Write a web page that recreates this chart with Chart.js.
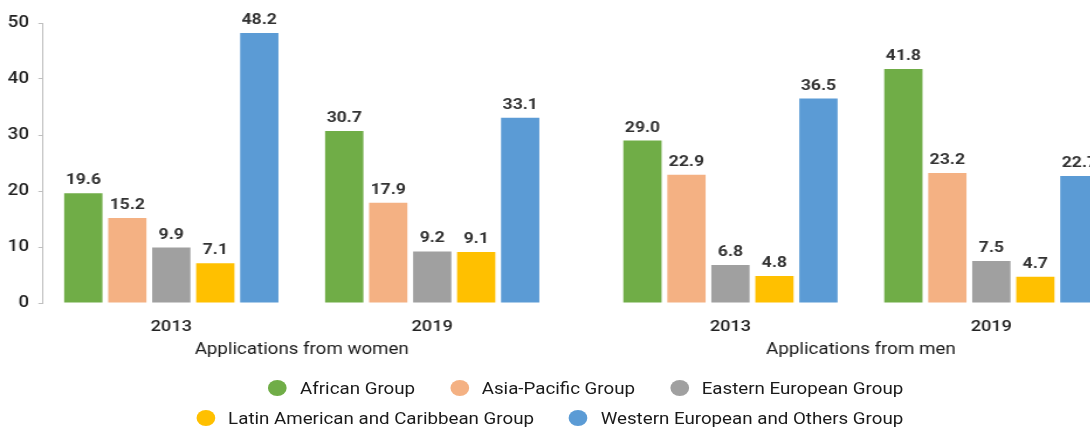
<!DOCTYPE html>
<html>
<head>
<meta charset="utf-8">
<script src="https://cdn.jsdelivr.net/npm/chart.js@4/dist/chart.umd.min.js"></script>
<style>
  body { margin: 0; background: #fff; overflow: hidden; }
  /* the reference is a horizontally stretched picture, so draw narrow and stretch */
  #wrap { position: relative; width: 932px; height: 427px; transform: scaleX(1.17); transform-origin: 0 0; }
  .legend { position: absolute; left: 0; top: 378px; width: 932px; font-family: Roboto, sans-serif; font-size: 16px; color: #1a1a1a; }
  .row { display: flex; justify-content: flex-end; align-items: center; height: 20px; margin-bottom: 10px; padding-right: 160px; }
  .item { display: flex; align-items: center; margin-left: 30px; white-space: nowrap; }
  .dot { width: 16px; height: 16px; border-radius: 50%; margin-right: 11px; }
</style>
</head>
<body>
<div id="wrap">
  <canvas id="chart" width="932" height="365"></canvas>
  <div class="legend" id="legend"></div>
</div>
<script>
// Applications by regional group (%)
const years = ['2013', '2019', '2013', '2019'];
const panels = ['Applications from women', 'Applications from men'];
const groupNames = ['African Group', 'Asia-Pacific Group', 'Eastern European Group',
  'Latin American and Caribbean Group', 'Western European and Others Group'];

const african = [19.6, 30.7, 29.0, 41.8];
const asiaPacific = [15.2, 17.9, 22.9, 23.2];
const easternEuropean = [9.9, 9.2, 6.8, 7.5];
const latinAmerican = [7.1, 9.1, 4.8, 4.7];
const westernEuropean = [48.2, 33.1, 36.5, 22.7];

const yTicks = [0, 10, 20, 30, 40, 50];

// layout: slot of each year on the x axis, with a wider gap between women and men
const panelGap = 0.143;
const slots = years.map((y, i) => i + (i >= 2 ? panelGap : 0));
const panelSlots = [0.5, 2.5 + panelGap];

const colors = ['#70AD47', '#F4B183', '#A0A0A0', '#FFC000', '#5B9BD5'];
const series = [african, asiaPacific, easternEuropean, latinAmerican, westernEuropean];

const valueLabels = {
    id: 'valueLabels',
    afterDatasetsDraw(chart) {
        const ctx = chart.ctx;
        ctx.save();
        ctx.font = 'bold 15px Roboto, sans-serif';
        ctx.fillStyle = '#333';
        ctx.textAlign = 'center';
        ctx.textBaseline = 'alphabetic';
        chart.data.datasets.forEach((ds, i) => {
            chart.getDatasetMeta(i).data.forEach((bar, j) => {
                ctx.fillText(ds.data[j].y.toFixed(1), bar.x, bar.y - 9);
            });
        });
        ctx.restore();
    }
};

new Chart(document.getElementById('chart'), {
    type: 'bar',
    data: {
        datasets: series.map((values, i) => ({
            label: groupNames[i],
            data: values.map((v, j) => ({ x: slots[j], y: v })),
            backgroundColor: colors[i],
            categoryPercentage: 0.843,
            barPercentage: 0.87
        }))
    },
    options: {
        responsive: false,
        animation: false,
        layout: { padding: { left: 6, top: 23, bottom: 4, right: 0 } },
        plugins: { legend: { display: false }, tooltip: { enabled: false } },
        scales: {
            x: {
                type: 'linear',
                min: -0.4915,
                max: 3.5228,
                offset: false,
                grid: { display: false, drawTicks: false },
                border: { display: false },
                afterBuildTicks: scale => { scale.ticks = slots.map(v => ({ value: v })); },
                afterFit: scale => { scale.height = 35; },
                ticks: {
                    autoSkip: false,
                    maxRotation: 0,
                    padding: 15,
                    color: '#222',
                    font: { family: 'Roboto', size: 15.5, weight: '500' },
                    callback: (v, i) => years[i]
                }
            },
            x2: {
                type: 'linear',
                position: 'bottom',
                min: -0.4915,
                max: 3.5228,
                offset: false,
                grid: { display: false, drawTicks: false },
                border: { display: false },
                afterBuildTicks: scale => { scale.ticks = panelSlots.map(v => ({ value: v })); },
                afterFit: scale => { scale.height = 23; },
                ticks: {
                    autoSkip: false,
                    maxRotation: 0,
                    padding: 2,
                    color: '#1a1a1a',
                    font: { family: 'Roboto', size: 16 },
                    callback: (v, i) => panels[i]
                }
            },
            y: {
                min: 0,
                max: 50,
                afterBuildTicks: scale => { scale.ticks = yTicks.map(v => ({ value: v })); },
                afterFit: scale => { scale.width = 30.8; },
                grid: { drawOnChartArea: false, drawTicks: true, tickLength: 4, color: '#BFBFBF' },
                border: { display: true, color: '#BFBFBF' },
                ticks: {
                    padding: 8,
                    color: '#222',
                    font: { family: 'Roboto', size: 16, weight: '500' }
                }
            }
        }
    },
    plugins: [valueLabels]
});

// legend, two rows like the reference
const legendRows = [[0, 1, 2], [3, 4]];
const legend = document.getElementById('legend');
legendRows.forEach(row => {
    const div = document.createElement('div');
    div.className = 'row';
    row.forEach(i => {
        const item = document.createElement('div');
        item.className = 'item';
        item.innerHTML = '<span class="dot" style="background:' + colors[i] + '"></span>' + groupNames[i];
        div.appendChild(item);
    });
    legend.appendChild(div);
});
</script>
</body>
</html>
